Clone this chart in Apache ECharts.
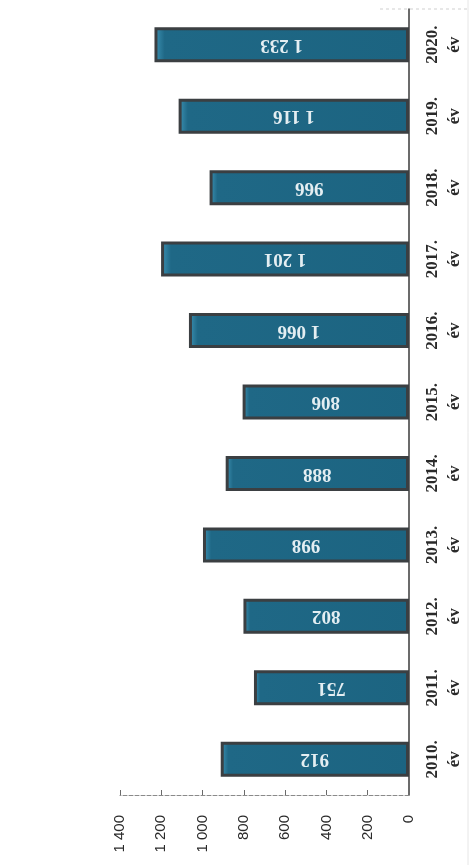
<!DOCTYPE html>
<html>
<head>
<meta charset="utf-8">
<script src="https://cdn.jsdelivr.net/npm/echarts@6/dist/echarts.min.js"></script>
<style>
html,body{margin:0;padding:0;background:#fff;}
#chart{width:475px;height:865px;}
</style>
</head>
<body>
<div id="chart"></div>
<script>
const years = ['2010.', '2011.', '2012.', '2013.', '2014.', '2015.', '2016.', '2017.', '2018.', '2019.', '2020.'];
const unitWord = 'év';
const values = [912, 751, 802, 998, 888, 806, 1066, 1201, 966, 1116, 1233];
const valueTicks = [0, 200, 400, 600, 800, 1000, 1200, 1400];

function fmt(v) {
  const s = String(Math.round(v));
  return s.replace(/\B(?=(\d{3})+(?!\d))/g, ' ');
}

const chart = echarts.init(document.getElementById('chart'));
chart.setOption({
  animation: false,
  backgroundColor: '#ffffff',
  grid: { left: 120, right: 66, top: 9, bottom: 70, containLabel: false },
  xAxis: {
    type: 'value',
    inverse: true,
    min: valueTicks[0],
    max: valueTicks[valueTicks.length - 1],
    interval: 200,
    position: 'bottom',
    splitLine: { show: false },
    axisLine: { show: true, lineStyle: { color: '#8a8a8a', width: 1, type: 'dashed' } },
    axisTick: { show: true, inside: true, length: 5, lineStyle: { color: '#6a6a6a' } },
    axisLabel: {
      rotate: 90,
      margin: 20,
      fontFamily: 'Liberation Sans',
      fontSize: 15,
      color: '#2a2a2a',
      formatter: v => fmt(v)
    }
  },
  yAxis: {
    type: 'category',
    position: 'right',
    data: years,
    axisLine: { show: true, lineStyle: { color: '#3a3a3a', width: 1.5 } },
    axisTick: { show: false },
    splitLine: { show: false },
    axisLabel: {
      rotate: 90,
      margin: 13,
      fontFamily: 'Liberation Serif',
      fontWeight: 'bold',
      fontSize: 17,
      lineHeight: 22,
      color: '#2a2a2a',
      formatter: v => v + '\n' + unitWord
    }
  },
  series: [{
    type: 'bar',
    data: values,
    barWidth: 35,
    itemStyle: {
      color: new echarts.graphic.LinearGradient(0, 0, 1, 0, [
        { offset: 0, color: '#3d93b5' },
        { offset: 0.04, color: '#1f6886' },
        { offset: 1, color: '#1c6481' }
      ]),
      borderColor: '#3b3f42',
      borderWidth: 3
    },
    label: {
      show: true,
      position: 'inside',
      rotate: 180,
      fontFamily: 'Liberation Serif',
      fontWeight: 'bold',
      fontSize: 19,
      color: '#e4eef2',
      formatter: p => fmt(p.value)
    }
  }],
  graphic: [
    { type: 'line', shape: { x1: 468, y1: 0, x2: 468, y2: 865 }, style: { stroke: '#e6e6e6', lineWidth: 1 } },
    { type: 'line', shape: { x1: 380, y1: 9, x2: 470, y2: 9 }, style: { stroke: '#d0d0d0', lineWidth: 1, lineDash: [3, 3] } }
  ]
});
</script>
</body>
</html>
